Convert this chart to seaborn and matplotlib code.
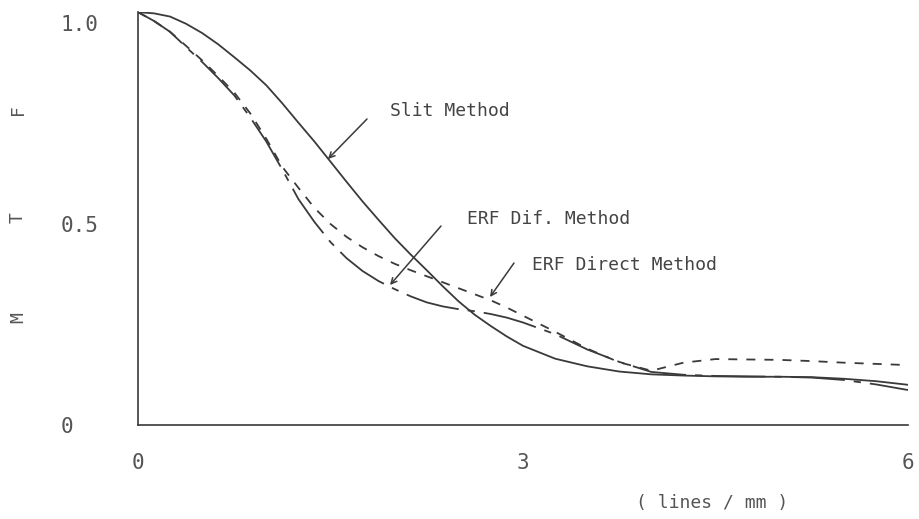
import matplotlib
matplotlib.use("Agg")
import matplotlib.pyplot as plt
import seaborn as sns
import pandas as pd

# ---- data ----
freq = [0.0, 0.125, 0.25, 0.375, 0.5, 0.625, 0.75, 0.875, 1.0, 1.125, 1.25,
        1.375, 1.5, 1.625, 1.75, 1.875, 2.0, 2.125, 2.25, 2.375, 2.5, 2.625,
        2.75, 2.875, 3.0, 3.25, 3.5, 3.75, 4.0, 4.25, 4.5, 4.75, 5.0, 5.25,
        5.5, 5.75, 6.0]
slit = [1.027, 1.024, 1.016, 0.998, 0.975, 0.947, 0.915, 0.882, 0.845, 0.800,
        0.752, 0.705, 0.655, 0.605, 0.556, 0.510, 0.465, 0.424, 0.385, 0.345,
        0.307, 0.274, 0.246, 0.220, 0.197, 0.165, 0.146, 0.133, 0.126, 0.123,
        0.121, 0.120, 0.120, 0.119, 0.115, 0.109, 0.100]
erf_dif = [1.027, 1.005, 0.978, 0.940, 0.903, 0.863, 0.820, 0.765, 0.705,
           0.635, 0.562, 0.505, 0.455, 0.415, 0.383, 0.358, 0.338, 0.320,
           0.305, 0.295, 0.288, 0.283, 0.276, 0.267, 0.255, 0.226, 0.188,
           0.157, 0.132, 0.125, 0.122, 0.121, 0.120, 0.118, 0.112, 0.101,
           0.087]
erf_direct = [1.027, 1.005, 0.978, 0.943, 0.907, 0.868, 0.827, 0.775, 0.712,
              0.642, 0.590, 0.540, 0.500, 0.468, 0.442, 0.420, 0.401, 0.385,
              0.370, 0.355, 0.340, 0.325, 0.310, 0.292, 0.272, 0.232, 0.190,
              0.156, 0.135, 0.155, 0.164, 0.163, 0.162, 0.159, 0.155, 0.152,
              0.149]
xticks = [0, 3, 6]
xticklabels = ["0", "3", "6"]
yticks = [0, 0.5, 1.0]
yticklabels = ["0", "0.5", "1.0"]
labels = ["Slit Method", "ERF Dif. Method", "ERF Direct Method"]

df = pd.DataFrame({"freq": freq, "slit": slit, "dif": erf_dif, "direct": erf_direct})

sns.set_style("white")
plt.rcParams["font.family"] = ["DejaVu Sans Mono", "DejaVu Sans"]

W, H = 919, 519
fig = plt.figure(figsize=(W / 100, H / 100), dpi=100)
x0, x1 = 138, 908
y0px, ytop = 425, 12
ax = fig.add_axes([x0 / W, (H - y0px) / H, (x1 - x0) / W, (y0px - ytop) / H])

ink = "#3a3a3a"
lw = 1.3
sns.lineplot(data=df, x="freq", y="slit", ax=ax, color=ink, linewidth=lw)
sns.lineplot(data=df, x="freq", y="dif", ax=ax, color=ink, linewidth=lw)
ax.lines[-1].set_dashes((30, 5, 4, 5))
sns.lineplot(data=df, x="freq", y="direct", ax=ax, color=ink, linewidth=lw)
ax.lines[-1].set_dashes((5, 5))

ax.set_xlim(0, 6)
ax.set_ylim(0, (y0px - ytop) / 402)
for s in ["top", "right"]:
    ax.spines[s].set_visible(False)
for s in ["left", "bottom"]:
    ax.spines[s].set_color(ink)
    ax.spines[s].set_linewidth(1.2)

ax.set_xticks(xticks)
ax.set_xticklabels(xticklabels)
ax.set_yticks(yticks)
ax.set_yticklabels(yticklabels)
ax.tick_params(axis="x", direction="in", length=10, width=1.2, color=ink,
               pad=20, labelsize=15, labelcolor="#555555")
ax.tick_params(axis="y", direction="in", length=7, width=1.2, color=ink,
               pad=56, labelsize=15, labelcolor="#555555")
for t in ax.get_yticklabels():
    t.set_horizontalalignment("left")
ax.set_xlabel("")
ax.set_ylabel("")

# y-axis label letters
for ch, ypx in [("F", 110), ("T", 218), ("M", 318)]:
    fig.text(18 / W, 1 - ypx / H, ch, rotation=90, ha="center", va="center",
             fontsize=13, color="#555555")

fig.text(712 / W, 1 - 503 / H, "( lines / mm )", ha="center", va="center",
         fontsize=13, color="#555555")

def px2data(px, py):
    return ((px - x0) / (x1 - x0) * 6, (y0px - py) / 402)

arrow = dict(arrowstyle="->", color=ink, lw=1.1, shrinkA=0, shrinkB=0)
txt = dict(fontsize=13, color="#444444", va="center", ha="left")

ax.annotate("", xy=px2data(328, 159), xytext=px2data(367, 119), arrowprops=arrow)
ax.text(*px2data(390, 111), labels[0], **txt)

ax.annotate("", xy=px2data(390, 285), xytext=px2data(441, 226), arrowprops=arrow)
ax.text(*px2data(467, 219), labels[1], **txt)

ax.annotate("", xy=px2data(490, 297), xytext=px2data(514, 263), arrowprops=arrow)
ax.text(*px2data(532, 265), labels[2], **txt)

fig.savefig("out.png", dpi=100)
